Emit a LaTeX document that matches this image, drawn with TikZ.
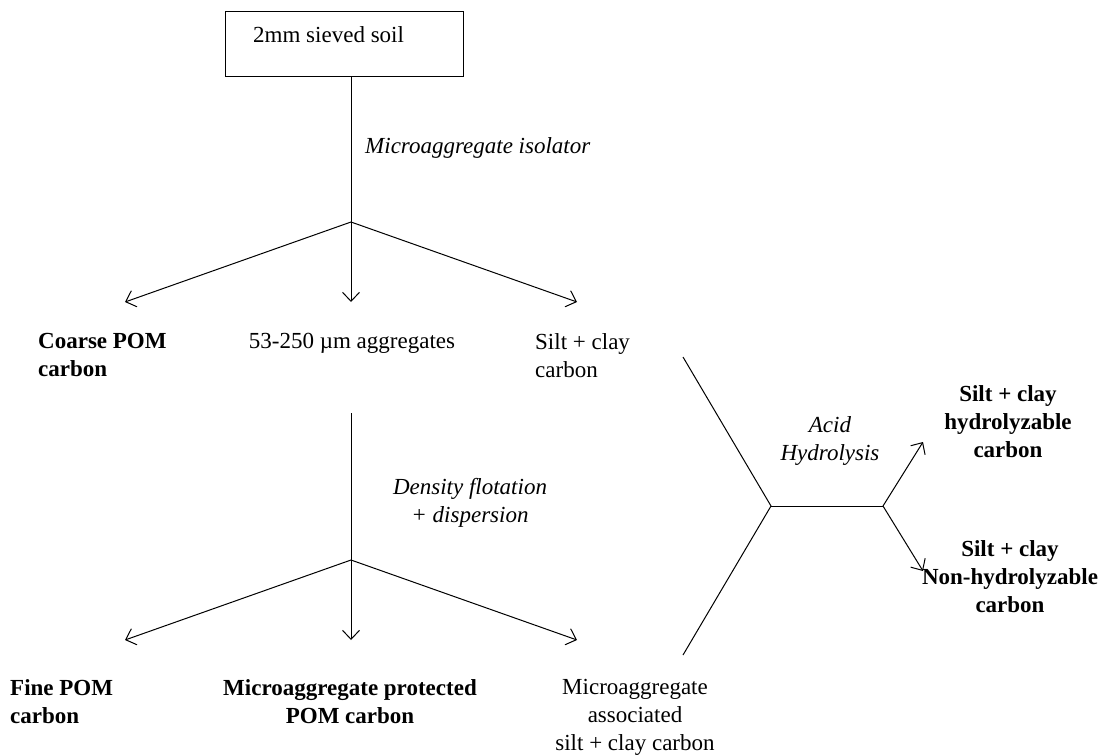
\documentclass[tikz,border=0pt]{standalone}
\usepackage{fontspec}
\setmainfont{Liberation Serif}
\usetikzlibrary{arrows.meta,positioning}

\tikzset{
  txt/.style={font=\fontsize{23}{28}\selectfont, align=center, inner sep=0pt},
  bftxt/.style={txt, font=\fontsize{23}{28}\selectfont\bfseries},
  ittxt/.style={txt, font=\fontsize{23}{28}\selectfont\itshape},
  flow/.style={line width=1pt},
  split/.style={flow, -{Straight Barb[length=9pt,width=17pt]}}
}

\begin{document}
\begin{tikzpicture}[x=1pt,y=-1pt]
\useasboundingbox (0,0) rectangle (1110,755);

% starting sample
\node[draw, flow, minimum width=238pt, minimum height=65pt, anchor=north west] (soil) at (225,11) {};
\node[txt, anchor=base west] (soiltxt) at (253,42) {2mm sieved soil};

% first fractionation
\coordinate (fork1) at (351,222);
\coordinate (tipA) at (125,302);
\coordinate (tipB) at (351,302);
\coordinate (tipC) at (577,302);
\draw[flow] (fork1 |- soil.south) -- (fork1);
\node[ittxt, anchor=base west] (isolator) at (365,153) {Microaggregate isolator};
\draw[split] (fork1) -- (tipA);
\draw[split] (fork1) -- (tipB);
\draw[split] (fork1) -- (tipC);

\node[bftxt, align=left, anchor=north west] (coarse) at (38,333) {Coarse POM\\carbon};
\node[txt, anchor=north] (agg) at (352,333) {53-250 µm aggregates};
\node[txt, align=left, anchor=north west] (siltclay) at (535,333) {Silt + clay\\carbon};

% second fractionation
\coordinate (top2) at (351,413);
\coordinate (fork2) at (351,560);
\coordinate (tipD) at (125,640);
\coordinate (tipE) at (351,640);
\coordinate (tipF) at (577,640);
\draw[flow] (top2) -- (fork2);
\node[ittxt, anchor=north] (density) at (470,478) {Density flotation\\+ dispersion};
\draw[split] (fork2) -- (tipD);
\draw[split] (fork2) -- (tipE);
\draw[split] (fork2) -- (tipF);

\node[bftxt, align=left, anchor=north west] (fine) at (10,679) {Fine POM\\carbon};
\node[bftxt, anchor=north] (protected) at (350,679) {Microaggregate protected\\POM carbon};
\node[txt, anchor=north] (assoc) at (635,679) {Microaggregate\\associated\\silt + clay carbon};

% acid hydrolysis
\coordinate (inA) at (683,357);
\coordinate (inB) at (683,655);
\coordinate (hl) at (771,506);
\coordinate (hr) at (883,506);
\coordinate (tipG) at (923,442);
\coordinate (tipH) at (923,571);
\draw[flow] (inA) -- (hl) -- (inB);
\draw[flow] (hl) -- (hr);
\node[ittxt, anchor=north] (acid) at (830,416) {Acid\\Hydrolysis};
\draw[split] (hr) -- (tipG);
\draw[split] (hr) -- (tipH);

\node[bftxt, anchor=north] (hydro) at (1008,385) {Silt + clay\\hydrolyzable\\carbon};
\node[bftxt, anchor=north] (nonhydro) at (1010,540) {Silt + clay\\Non-hydrolyzable\\carbon};

\end{tikzpicture}
\end{document}
